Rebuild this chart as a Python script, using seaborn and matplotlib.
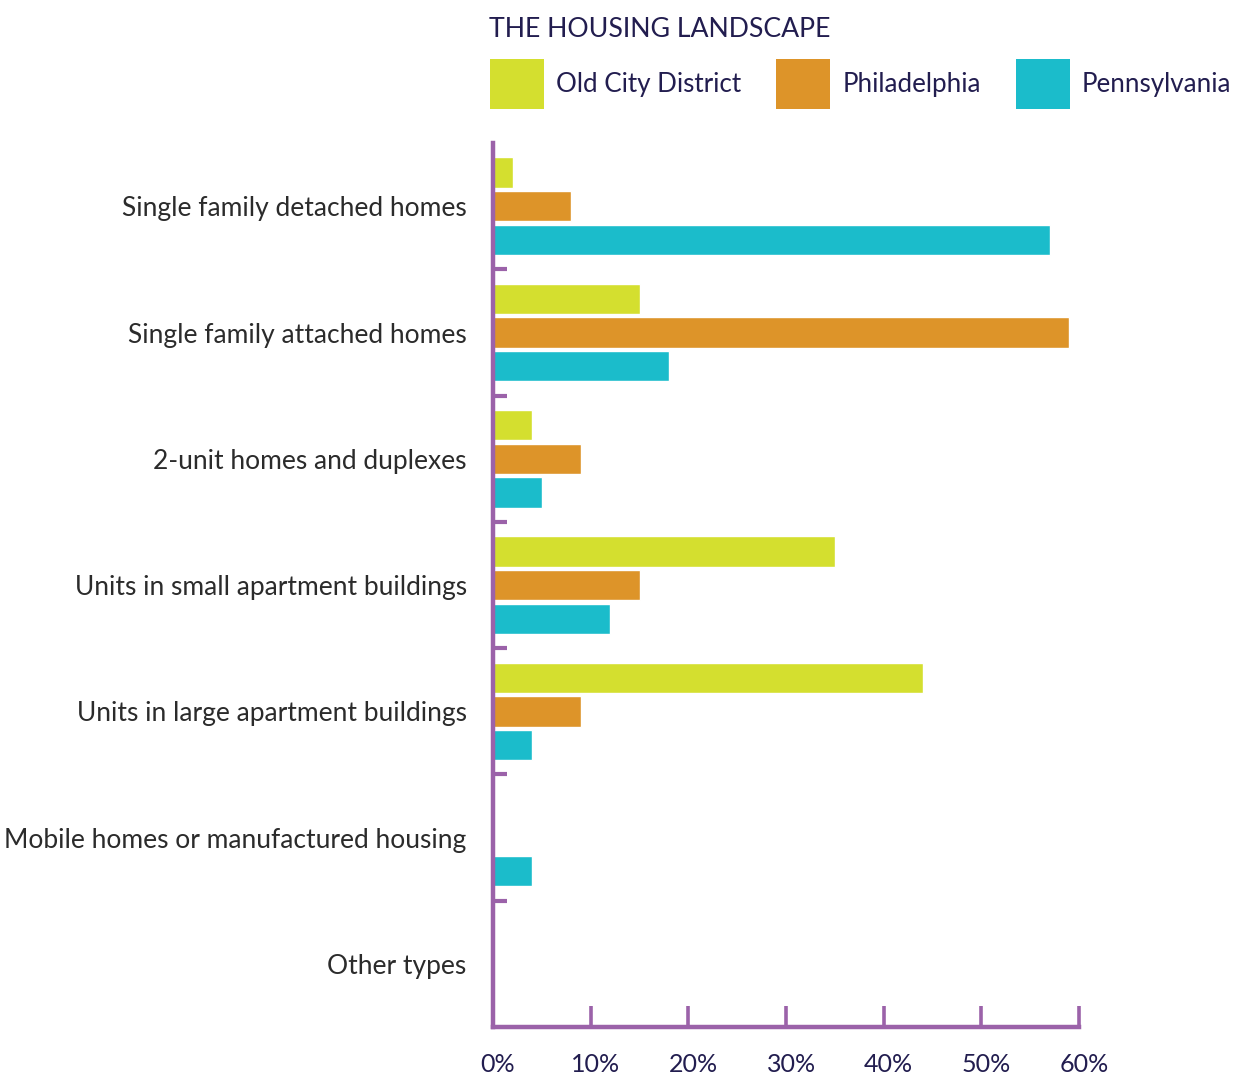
import matplotlib
matplotlib.use("Agg")
import matplotlib.pyplot as plt
import matplotlib.transforms as mtransforms
import pandas as pd
import seaborn as sns
from matplotlib.patches import Patch

# Housing type shares (%) by area
categories = [
    "Single family detached homes",
    "Single family attached homes",
    "2-unit homes and duplexes",
    "Units in small apartment buildings",
    "Units in large apartment buildings",
    "Mobile homes or manufactured housing",
    "Other types",
]
series = ["Old City District", "Philadelphia", "Pennsylvania"]
old_city = [2, 15, 4, 35, 44, 0, 0]
philadelphia = [8, 59, 9, 15, 9, 0, 0]
pennsylvania = [57, 18, 5, 12, 4, 4, 0]
x_ticks = [0, 10, 20, 30, 40, 50, 60]
x_tick_labels = ["0%", "10%", "20%", "30%", "40%", "50%", "60%"]

colors = ["#d4df2f", "#dd9429", "#1bbccb"]
axis_purple = "#9b62a9"
navy = "#221d4f"
label_dark = "#2b2b2b"

rows = []
for name, vals in zip(series, [old_city, philadelphia, pennsylvania]):
    for cat, v in zip(categories, vals):
        rows.append({"Housing type": cat, "Area": name, "Share": v})
df = pd.DataFrame(rows)

sns.set_theme(style="white")
plt.rcParams["font.family"] = ["Lato", "DejaVu Sans"]

fig = plt.figure(figsize=(12.41, 10.76), dpi=100)
ax = fig.add_axes([0.3973, 0.0455, 0.4722, 0.8215])

sns.barplot(
    data=df, y="Housing type", x="Share", hue="Area", orient="h",
    order=categories, hue_order=series, palette=colors,
    width=0.8, gap=0.1, legend=False, ax=ax, saturation=1,
)

ax.set_xlim(0, 60)
ax.set_ylim(6.5, -0.5)
ax.set_xlabel("")
ax.set_ylabel("")

for side in ["top", "right"]:
    ax.spines[side].set_visible(False)
for side in ["left", "bottom"]:
    ax.spines[side].set_color(axis_purple)
    ax.spines[side].set_linewidth(3.2)

ax.set_xticks(x_ticks)
ax.set_xticklabels(x_tick_labels)
ax.tick_params(axis="x", which="major", bottom=True, direction="in",
               length=15, width=2.6, color=axis_purple, pad=19,
               labelsize=18, labelcolor=navy)
shift = mtransforms.ScaledTranslation(5 / 100, 0, fig.dpi_scale_trans)
for lbl in ax.get_xticklabels():
    lbl.set_transform(lbl.get_transform() + shift)

ax.tick_params(axis="y", which="major", left=False, length=0, pad=19,
               labelsize=19, labelcolor=label_dark)
ax.set_yticks([i + 0.5 for i in range(len(categories) - 1)], minor=True)
ax.tick_params(axis="y", which="minor", left=True, direction="in",
               length=10, width=3, color=axis_purple)

fig.text(0.394, 0.973, "THE HOUSING LANDSCAPE", fontsize=19.2, color=navy,
         ha="left", va="center")

handles = [Patch(facecolor=c, edgecolor="none", label=s)
           for c, s in zip(colors, series)]
fig.legend(handles=handles, loc="upper left", bbox_to_anchor=(0.395, 0.945),
           ncol=3, frameon=False, fontsize=18.7, labelcolor=navy,
           handlelength=2.08, handleheight=2.6, handletextpad=0.46,
           columnspacing=1.35, borderpad=0, borderaxespad=0)

fig.savefig("out.png", dpi=100, facecolor="white")
